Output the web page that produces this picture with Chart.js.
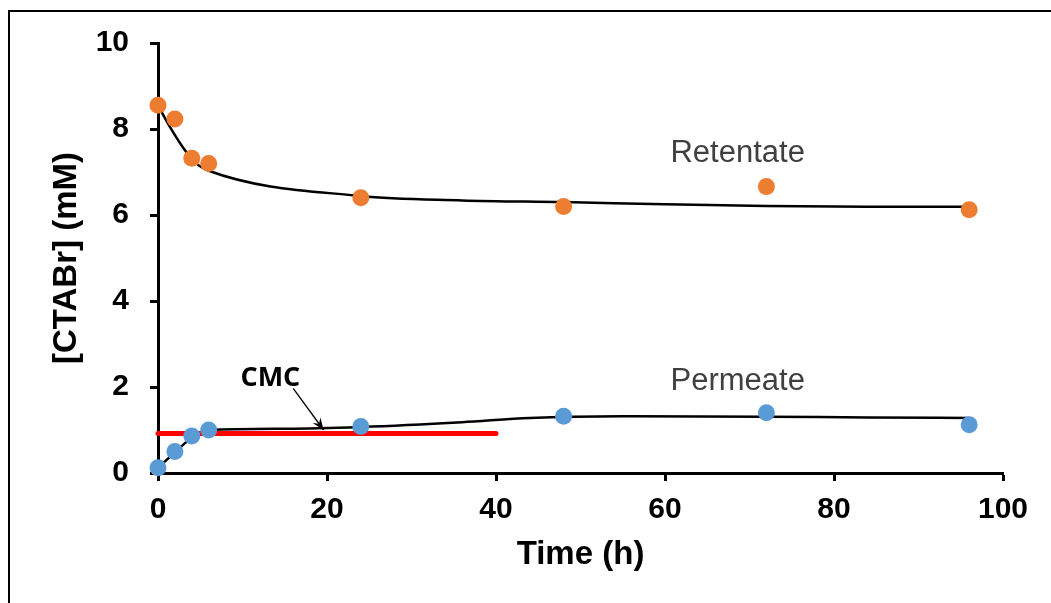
<!DOCTYPE html>
<html>
<head>
<meta charset="utf-8">
<script src="https://cdn.jsdelivr.net/npm/chart.js@4"></script>
<style>
  html, body { margin: 0; padding: 0; background: #fff; }
  #wrap { width: 1051px; height: 603px; }
</style>
</head>
<body>
<div id="wrap"><canvas id="chart"></canvas></div>
<script>
// measured values
const times = [0, 2, 4, 6, 24, 48, 72, 96];
const retentate = [8.55, 8.23, 7.32, 7.2, 6.4, 6.2, 6.66, 6.12];
const permeate = [0.12, 0.5, 0.86, 1.0, 1.08, 1.32, 1.4, 1.12];

// smoothed trend lines
const retTrendT = [0, 1.5, 3, 4.5, 6, 24, 36, 48, 60, 72, 84, 96];
const retTrendY = [8.55, 8.02, 7.56, 7.2, 7.03, 6.44, 6.34, 6.3, 6.25, 6.21, 6.19, 6.19];
const permTrendT = [0, 2, 4, 6, 15, 24, 36, 44, 55, 72, 84, 96];
const permTrendY = [0.12, 0.48, 0.82, 1.0, 1.03, 1.07, 1.18, 1.28, 1.32, 1.31, 1.29, 1.28];

const cmcT = [0, 40];
const cmcY = [0.92, 0.92];

const xTicks = [0, 20, 40, 60, 80, 100];
const yTicks = [0, 2, 4, 6, 8, 10];

const toXY = (xs, ys) => xs.map((x, i) => ({ x: x, y: ys[i] }));

// texts and arrow on the plot
const labelsPlugin = {
    id: "labelsPlugin",
    beforeDraw(chart) {
        const ctx = chart.ctx;
        ctx.save();
        ctx.strokeStyle = "#000";
        ctx.lineWidth = 2;
        ctx.strokeRect(9, 11, 1200, 800);
        ctx.restore();
    },
    afterDatasetsDraw(chart) {
        const ctx = chart.ctx;
        const xs = chart.scales.x, ys = chart.scales.y;
        ctx.save();
        ctx.fillStyle = "#404040";
        ctx.font = "31px 'Liberation Sans', Arial, sans-serif";
        ctx.textAlign = "center";
        ctx.textBaseline = "middle";
        ctx.fillText("Retentate", xs.getPixelForValue(68.6), ys.getPixelForValue(7.44));
        ctx.fillText("Permeate", xs.getPixelForValue(68.6), ys.getPixelForValue(2.12));

        ctx.fillStyle = "#000";
        ctx.font = "bold 27px 'Open Sans', sans-serif";
        ctx.fillText("CMC", xs.getPixelForValue(13.3), ys.getPixelForValue(2.2));

        // arrow
        const x1 = xs.getPixelForValue(16.0), y1 = ys.getPixelForValue(1.97);
        const x2 = xs.getPixelForValue(19.6), y2 = ys.getPixelForValue(1.0);
        ctx.strokeStyle = "#000";
        ctx.lineWidth = 1.3;
        ctx.beginPath();
        ctx.moveTo(x1, y1);
        ctx.lineTo(x2, y2);
        ctx.stroke();
        const ang = Math.atan2(y2 - y1, x2 - x1);
        const len = 13, spread = 0.38;
        ctx.beginPath();
        ctx.moveTo(x2, y2);
        ctx.lineTo(x2 - len * Math.cos(ang - spread), y2 - len * Math.sin(ang - spread));
        ctx.lineTo(x2 - len * 0.6 * Math.cos(ang), y2 - len * 0.6 * Math.sin(ang));
        ctx.lineTo(x2 - len * Math.cos(ang + spread), y2 - len * Math.sin(ang + spread));
        ctx.closePath();
        ctx.fill();
        ctx.restore();
    }
};

const ctx = document.getElementById("chart").getContext("2d");

new Chart(ctx, {
    type: "scatter",
    data: {
        datasets: [
            {
                label: "Retentate fit",
                type: "line",
                data: toXY(retTrendT, retTrendY),
                borderColor: "#000",
                borderWidth: 2.5,
                pointRadius: 0,
                cubicInterpolationMode: "monotone",
                fill: false,
                clip: false,
                order: 3
            },
            {
                label: "Permeate fit",
                type: "line",
                data: toXY(permTrendT, permTrendY),
                borderColor: "#000",
                borderWidth: 2.5,
                pointRadius: 0,
                cubicInterpolationMode: "monotone",
                fill: false,
                clip: false,
                order: 3
            },
            {
                label: "CMC",
                type: "line",
                data: toXY(cmcT, cmcY),
                borderColor: "#ff0000",
                borderWidth: 5,
                borderCapStyle: "round",
                pointRadius: 0,
                fill: false,
                clip: false,
                order: 2
            },
            {
                label: "Retentate",
                data: toXY(times, retentate),
                backgroundColor: "#ED7D31",
                borderWidth: 0,
                pointRadius: 8.5,
                clip: false,
                order: 1
            },
            {
                label: "Permeate",
                data: toXY(times, permeate),
                backgroundColor: "#5B9BD5",
                borderWidth: 0,
                pointRadius: 8.5,
                clip: false,
                order: 1
            }
        ]
    },
    options: {
        responsive: true,
        maintainAspectRatio: false,
        animation: false,
        layout: { padding: { left: 0, top: 43, right: 48, bottom: 0 } },
        plugins: {
            legend: { display: false },
            tooltip: { enabled: false }
        },
        scales: {
            x: {
                type: "linear",
                min: 0,
                max: 100,
                afterBuildTicks: (axis) => { axis.ticks = xTicks.map(v => ({ value: v })); },
                afterFit: (axis) => { axis.height = 130; },
                border: { color: "#000", width: 3 },
                grid: { drawOnChartArea: false, drawTicks: true, tickLength: 8, tickColor: "#000", tickWidth: 3 },
                ticks: {
                    color: "#000",
                    padding: 11,
                    maxRotation: 0,
                    font: { family: "'Liberation Sans', Arial, sans-serif", size: 30, weight: "bold" }
                },
                title: {
                    display: true,
                    text: "Time (h)",
                    color: "#000",
                    padding: { top: 0, bottom: 28 },
                    font: { family: "'Liberation Sans', Arial, sans-serif", size: 33, weight: "bold" }
                }
            },
            y: {
                type: "linear",
                min: 0,
                max: 10,
                afterBuildTicks: (axis) => { axis.ticks = yTicks.map(v => ({ value: v })); },
                afterFit: (axis) => { axis.width = 158; },
                border: { color: "#000", width: 3 },
                grid: { drawOnChartArea: false, drawTicks: true, tickLength: 8, tickColor: "#000", tickWidth: 3 },
                ticks: {
                    color: "#000",
                    padding: 21,
                    font: { family: "'Liberation Sans', Arial, sans-serif", size: 30, weight: "bold" }
                },
                title: {
                    display: true,
                    text: "[CTABr] (mM)",
                    color: "#000",
                    padding: { top: 47, bottom: 0 },
                    font: { family: "'Liberation Sans', Arial, sans-serif", size: 33, weight: "bold" }
                }
            }
        }
    },
    plugins: [labelsPlugin]
});
</script>
</body>
</html>
